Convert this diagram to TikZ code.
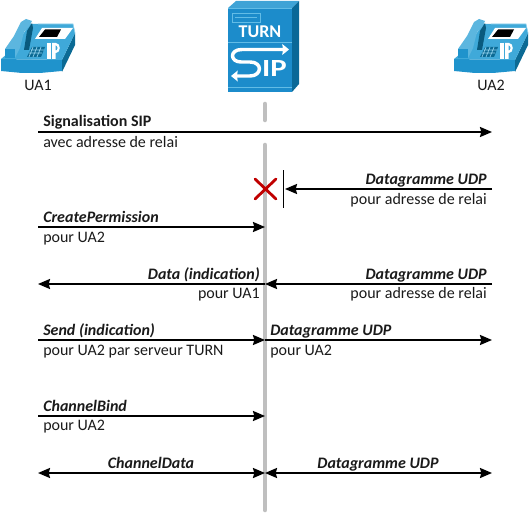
\documentclass[tikz,border=0pt]{standalone}
\usepackage{fontspec}
\setmainfont{Carlito}
\usetikzlibrary{arrows.meta}
\definecolor{phonelight}{HTML}{3FA9D9}
\definecolor{phonefront}{HTML}{1F93CC}
\definecolor{phoneside}{HTML}{0B6A94}
\definecolor{phonepale}{HTML}{8FD0EC}
\definecolor{srvfront}{HTML}{1C8CCB}
\definecolor{srvtop}{HTML}{3FA3D6}
\definecolor{srvside}{HTML}{0A6897}
\definecolor{srvline}{HTML}{62BCE6}
\definecolor{lifegray}{HTML}{BFBFBF}
\definecolor{crossred}{HTML}{C00000}
\definecolor{txt}{HTML}{1A1A1A}
\tikzset{
  x=0.75pt,y=-0.75pt,
  lbl/.style={font=\fontsize{12}{14}\selectfont,text=txt,inner sep=0pt},
  lblb/.style={lbl,font=\fontsize{12}{14}\selectfont\bfseries},
  lblbi/.style={lbl,font=\fontsize{12}{14}\selectfont\bfseries\itshape},
  msg/.style={draw=black,line width=1.5pt,-{Stealth[length=9pt,width=7.5pt,inset=1pt]}},
  msgb/.style={draw=black,line width=1.5pt,{Stealth[length=9pt,width=7.5pt,inset=1pt]}-{Stealth[length=9pt,width=7.5pt,inset=1pt]}},
  life/.style={draw=lifegray,line width=3.4pt,line cap=round},
}
\newcommand{\ipphone}[1]{%
\begin{scope}[shift={(#1,0)}]
  \fill[phonefront] (1,59) -- (62,60) -- (62,71) -- (40,73) -- (22,73) -- (1,71) -- cycle;
  \fill[phoneside] (62,60) -- (75,33) -- (75,45) -- (62,72) -- cycle;
  \fill[phonelight] (12,50) -- (30,24) -- (73,24) -- (75,33) -- (62,60) -- (1,59) -- cycle;
  \draw[phonepale,line width=.5pt] (38,24) -- (73,24) -- (75,33);
  \fill[phoneside!85!black] (24,50) -- (27,31) -- (32,23) -- (33,28) -- (29,50) -- cycle;
  \fill[phonelight!85!white] (5,49) -- (14,36) -- (21,22) -- (26,19) -- (32,21) -- (29,27) -- (24,32) -- (20,48) -- (15,58) -- (5,58) -- cycle;
  \fill[phonefront] (5,49) -- (15,49) -- (15,58) -- (5,58) -- cycle;
  \fill[white] (35,39) -- (42,28) -- (73,28) -- (65,39) -- cycle;
  \fill[black] (39,37) -- (45,29.5) -- (61,29.5) -- (57,37) -- cycle;
  \fill[phoneside] (27,57) -- (32,47) -- (45,47) -- (41,57) -- cycle;
  \draw[phonepale,line width=.5pt] (29,53) -- (42,53) (31,50) -- (44,50) (33,47) -- (29,57) (37,47) -- (33,57) (41,47) -- (37,57);
  \fill[white] (47,43) rectangle (50.5,59);
  \fill[white,even odd rule] (52,43) -- (56,43) .. controls (61,43) and (61,53) .. (56,53) -- (55.5,53) -- (55.5,59) -- (52,59) -- cycle
     (55.5,45.5) -- (55.5,50.5) -- (56,50.5) .. controls (58,50.5) and (58,45.5) .. (56,45.5) -- cycle;
\end{scope}}
\begin{document}
\begin{tikzpicture}
\useasboundingbox (0,0) rectangle (530,513);
% phones
\ipphone{0}
\ipphone{453}
\node[lbl] (ua1) at (38,85) {UA1};
\node[lbl] (ua2) at (491,85) {UA2};
% server
\fill[srvtop] (228,8) -- (236,1) -- (299,1) -- (292,8) -- cycle;
\fill[srvside] (292,8) -- (299,1) -- (299,84) -- (292,92) -- cycle;
\fill[srvfront] (228,8) rectangle (292,92);
\draw[srvline,line width=.6pt] (232,13) rectangle (260,22);
\draw[srvline,line width=.6pt] (235,17) -- (257,17);
\draw[srvline,line width=.6pt] (228,42) -- (292,42);
\fill[srvline] (228,87) rectangle (292,88);
\draw[srvline,line width=.6pt] (228,8) -- (292,8);
\node[font=\fontsize{13.5}{14}\selectfont\bfseries,text=white,inner sep=0pt] (turn) at (260,32) {TURN};
\draw[white,line width=2.6pt,line join=round,-{Stealth[length=5pt,width=8pt,inset=.5pt]}]
  (284,49.5) -- (242,49.5) .. controls (229,49.5) and (230,62) .. (241,62)
  -- (250,62) .. controls (263,62) and (262,76) .. (250,76) -- (231,76);
\draw[white,line width=2.6pt,-{Stealth[length=5pt,width=8pt,inset=.5pt]}] (270,49.5) -- (289,49.5);
\node[font=\fontsize{18.5}{18}\selectfont\bfseries,text=white,inner sep=0pt,xscale=1.25] (ip) at (274.5,69) {IP};
% lifelines
\coordinate (ltop1) at (265,104);
\coordinate (ltop2) at (265,120);
\coordinate (lt) at (265,145);
\coordinate (lb) at (265,510);
\draw[life] (ltop1) -- (ltop2);
\draw[life] (lt) -- (lb);
% reference points
\coordinate (a1) at (38,132);  \coordinate (b1) at (492,132);
\coordinate (b2) at (492,189); \coordinate (w2) at (285,189);
\coordinate (w2t) at (283.5,170); \coordinate (w2b) at (283.5,208);
\coordinate (a3) at (38,227);  \coordinate (m3) at (265,227);
\coordinate (a4) at (38,284);  \coordinate (m4) at (265,284);  \coordinate (b4) at (492,284);
\coordinate (a5) at (38,340);  \coordinate (m5) at (265,340);  \coordinate (b5) at (492,340);
\coordinate (a6) at (38,416);  \coordinate (m6) at (265,416);
\coordinate (a7) at (38,473);  \coordinate (m7) at (265,473);  \coordinate (b7) at (492,473);
% cross
\coordinate (x1) at (255,179); \coordinate (x2) at (276,199);
\coordinate (x3) at (255,199); \coordinate (x4) at (276,179);
\draw[crossred,line width=2.1pt,line cap=round] (x1) -- (x2) (x3) -- (x4);
% arrows
\draw[msg] (a1) -- (b1);
\draw[msg] (b2) -- (w2);
\draw[black,line width=.6pt] (w2t) -- (w2b);
\draw[msg] (a3) -- (m3);
\draw[msg] (b4) -- (m4);
\draw[msg] (m4) -- (a4);
\draw[msg] (a5) -- (m5);
\draw[msg] (m5) -- (b5);
\draw[msg] (a6) -- (m6);
\draw[msgb] (a7) -- (m7);
\draw[msgb] (m7) -- (b7);
% labels
\node[lblb,anchor=base west] (t1) at (43,127) {Signalisation SIP};
\node[lbl,anchor=base west] (t1b) at (43,147) {avec adresse de relai};
\node[lblbi,anchor=base east] (t2) at (487,184) {Datagramme UDP};
\node[lbl,anchor=base east] (t2b) at (487,204) {pour adresse de relai};
\node[lblbi,anchor=base west] (t3) at (43,222) {CreatePermission};
\node[lbl,anchor=base west] (t3b) at (43,242) {pour UA2};
\node[lblbi,anchor=base east] (t4) at (260,279) {Data (indication)};
\node[lbl,anchor=base east] (t4b) at (260,298) {pour UA1};
\node[lblbi,anchor=base east] (t5) at (487,279) {Datagramme UDP};
\node[lbl,anchor=base east] (t5b) at (487,298) {pour adresse de relai};
\node[lblbi,anchor=base west] (t6) at (43,335) {Send (indication)};
\node[lbl,anchor=base west] (t6b) at (43,355) {pour UA2 par serveur TURN};
\node[lblbi,anchor=base west] (t7) at (270,335) {Datagramme UDP};
\node[lbl,anchor=base west] (t7b) at (270,355) {pour UA2};
\node[lblbi,anchor=base west] (t8) at (43,411) {ChannelBind};
\node[lbl,anchor=base west] (t8b) at (43,430) {pour UA2};
\node[lblbi,anchor=base] (t9) at (151,468) {ChannelData};
\node[lblbi,anchor=base] (t10) at (378,468) {Datagramme UDP};
\end{tikzpicture}
\end{document}
